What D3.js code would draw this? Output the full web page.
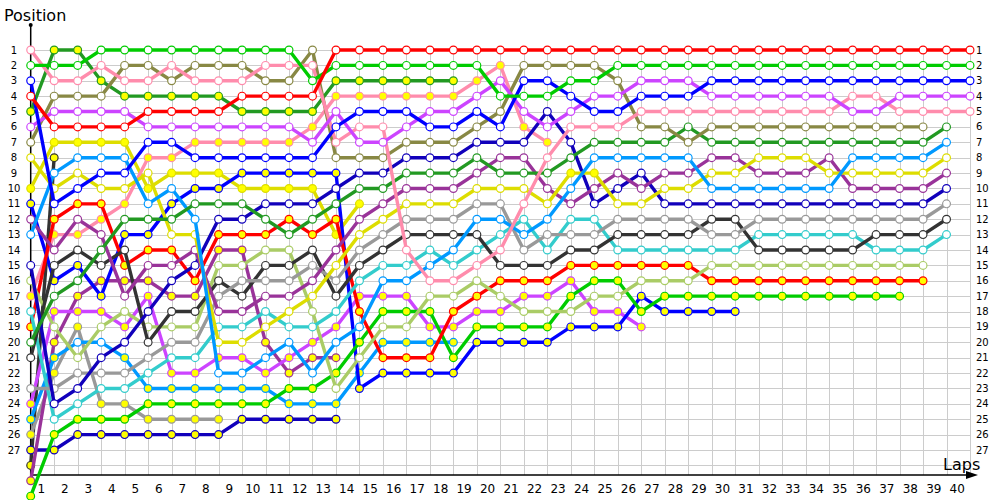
<!DOCTYPE html>
<html>
<head>
<meta charset="utf-8">
<script src="https://cdn.jsdelivr.net/npm/d3@7"></script>
<style>
body { margin: 0; background: #fff; }
svg { display: block; }
text { font-family: "DejaVu Sans", Verdana, sans-serif; fill: #000; }
</style>
</head>
<body>
<svg id="chart" width="1000" height="500"></svg>
<script>
// position of each car after every lap (index 0 = starting grid)
var redA     = [4,6,6,6,6,5,5,5,5,4,4,4,4,1,1,1,1,1,1,1,1,1,1,1,1,1,1,1,1,1,1,1,1,1,1,1,1,1,1,1,1];
var greenA   = [2,2,2,1,1,1,1,1,1,1,1,1,3,2,2,2,2,2,2,2,4,4,4,3,3,2,2,2,2,2,2,2,2,2,2,2,2,2,2,2,2];
var blueA    = [3,11,10,9,9,7,7,8,8,8,8,8,8,6,5,5,5,6,6,5,6,3,3,4,5,5,4,4,4,3,3,3,3,3,3,3,3,3,3,3,3];
var magentaA = [6,5,5,5,5,6,6,6,6,6,6,6,7,5,7,7,6,5,5,4,3,5,6,5,4,4,3,3,3,4,4,4,4,4,4,5,5,4,4,4,4];
var pinkA    = [1,3,3,2,3,3,2,3,3,3,2,2,2,7,6,6,14,16,16,15,14,11,8,6,6,6,5,5,5,5,5,5,5,5,5,4,4,5,5,5,5];
var oliveA   = [7,4,4,4,2,2,3,2,2,2,3,3,1,8,8,8,7,7,7,6,5,2,2,2,2,3,6,6,7,6,6,6,6,6,6,6,6,6,6];
var dkgreenA = [20,17,16,14,12,12,12,11,11,11,12,13,12,11,10,10,9,9,9,8,9,9,9,8,7,7,7,7,6,7,7,7,7,7,7,7,7,7,7,6];
var ltblueA  = [13,9,8,8,8,11,10,12,22,22,21,20,22,20,19,16,16,15,14,12,12,13,12,10,8,8,8,8,8,10,10,10,10,10,10,8,8,8,8,7];
var yellowA  = [8,10,9,10,10,9,13,13,20,20,19,18,17,15,13,12,11,11,11,10,10,10,11,9,9,11,11,10,10,9,9,8,8,8,9,9,9,9,9,8];
var purpleA  = [12,14,12,13,17,15,15,14,18,18,17,17,16,14,12,11,10,10,10,9,8,8,10,11,10,9,10,9,9,8,8,9,9,9,8,10,10,10,10,9];
var navyA    = [15,24,23,21,20,18,16,15,12,12,11,11,11,10,9,9,8,8,8,7,7,7,5,7,11,10,9,11,11,11,11,11,11,11,11,11,11,11,11,10];
var grayA    = [23,23,22,22,22,21,20,20,17,16,16,16,15,16,14,13,12,12,12,11,11,14,13,13,13,12,12,12,12,13,13,12,12,12,12,12,12,12,12,11];
var dkgrayA  = [21,15,14,15,14,20,18,18,16,17,15,15,14,17,15,14,13,13,13,13,15,15,15,14,14,13,13,13,13,12,12,14,14,14,14,14,13,13,13,12];
var cyanA    = [18,25,24,23,23,22,21,21,19,19,18,19,19,18,16,15,15,14,15,14,13,12,14,12,12,14,14,14,14,14,14,13,13,13,13,13,14,14,14,13];
var ltgreenA = [16,19,21,19,18,19,19,19,15,15,14,14,18,23,21,19,19,17,17,16,17,18,18,18,17,17,16,16,16,15,15,15,15,15,15,15,15,15,15];
var redB     = [19,12,11,11,15,14,14,16,13,13,13,12,13,12,18,21,21,21,18,17,16,16,16,15,15,15,15,15,15,16,16,16,16,16,16,16,16,16,16];
var greenB   = [30,26,25,25,25,24,24,24,24,24,24,23,23,22,20,18,18,18,21,19,19,19,19,17,16,16,18,17,17,17,17,17,17,17,17,17,17,17];
var blueB    = [11,16,15,17,13,13,11,10,10,9,9,9,9,9,23,22,22,22,22,20,20,20,20,19,19,19,17,18,18,18,18];
var magentaB = [24,18,18,18,19,17,22,22,21,21,22,21,20,19,17,17,17,19,19,18,18,17,17,16,18,18,19];
var pinkB    = [17,13,13,12,11,8,8,7,7,7,7,7,6,4,4,4,4,4,4,3,2,6,7];
var dkgreenB = [5,1,1,3,4,4,4,4,4,5,5,5,5,3,3,3,3,3,3];
var ltblueB  = [25,21,20,20,21,23,23,23,23,23,23,24,24,24,22,20,20,20,20];
var yellowB  = [10,7,7,7,7,10,9,9,9,10,10,10,10,13,11];
var purpleB  = [29,20,17,16,16,16,17,17,14,14,20,22,21,21];
var navyB    = [27,27,26,26,26,26,26,26,26,25,25,25,25,25];
var grayB    = [26,22,19,24,24,25,25,25,25];
var dkgrayB  = [28,8];

// cars drawn with a yellow marker, and single laps where the marker fill flips
var yellowCars = ["redB","greenB","blueB","magentaB","pinkB","dkgreenB","ltblueB","yellowB","purpleB","navyB","grayB","dkgrayB"];
var fillFlips = { ltblueB: [2, 3], yellowA: [23, 24] };

var lapTicks = d3.range(1, 41);
var posTicks = d3.range(1, 28);

var carData = {
    redA: redA, greenA: greenA, blueA: blueA, magentaA: magentaA, pinkA: pinkA,
    oliveA: oliveA, dkgreenA: dkgreenA, ltblueA: ltblueA, yellowA: yellowA,
    purpleA: purpleA, navyA: navyA, grayA: grayA, dkgrayA: dkgrayA, cyanA: cyanA,
    ltgreenA: ltgreenA, redB: redB, greenB: greenB, blueB: blueB, magentaB: magentaB,
    pinkB: pinkB, dkgreenB: dkgreenB, ltblueB: ltblueB, yellowB: yellowB,
    purpleB: purpleB, navyB: navyB, grayB: grayB, dkgrayB: dkgrayB
};

var teamColor = {
    red: "#ff0000", green: "#00cc00", blue: "#0000ff", magenta: "#cc44ff",
    pink: "#ff8cac", olive: "#888844", dkgreen: "#229922", ltblue: "#0099ff",
    yellow: "#dddd00", purple: "#993399", navy: "#1100bb", gray: "#999999",
    dkgray: "#333333", cyan: "#33cccc", ltgreen: "#aacc66"
};

var svg = d3.select("#chart");
var x = d3.scaleLinear().domain([0, 40]).range([30.7, 970]);
var y = d3.scaleLinear().domain([1, 27]).range([50, 450]);
var axisY = 475;

// grid
var grid = svg.append("g").attr("stroke", "#cccccc").attr("stroke-width", 1);
grid.selectAll("line.h").data(d3.range(1, 29)).enter().append("line")
    .attr("x1", x(0)).attr("x2", x(40))
    .attr("y1", function (d) { return Math.round(y(d)) + 0.5; })
    .attr("y2", function (d) { return Math.round(y(d)) + 0.5; });
grid.selectAll("line.v").data(lapTicks).enter().append("line")
    .attr("x1", function (d) { return Math.round(x(d)) + 0.5; })
    .attr("x2", function (d) { return Math.round(x(d)) + 0.5; })
    .attr("y1", y(1) - 3).attr("y2", axisY);

// axes
svg.append("line").attr("x1", x(0)).attr("x2", x(0)).attr("y1", 25).attr("y2", axisY)
    .attr("stroke", "#000").attr("stroke-width", 1.5);
svg.append("circle").attr("cx", x(0)).attr("cy", 25).attr("r", 2).attr("fill", "#000");
svg.append("line").attr("x1", x(0)).attr("x2", 972).attr("y1", axisY).attr("y2", axisY)
    .attr("stroke", "#000").attr("stroke-width", 1.5);
svg.append("path").attr("d", "M966,471L978,475L966,479Z").attr("fill", "#000");

svg.append("text").attr("x", 4).attr("y", 21).style("font-size", "16px").text("Position");
svg.append("text").attr("x", 943).attr("y", 470).style("font-size", "16px").text("Laps");

svg.append("g").selectAll("text").data(posTicks).enter().append("text")
    .attr("x", 14).attr("y", function (d) { return y(d) + 3.5; })
    .attr("text-anchor", "middle").style("font-size", "10px")
    .text(function (d) { return d; });
svg.append("g").selectAll("text").data(posTicks).enter().append("text")
    .attr("x", 976).attr("y", function (d) { return y(d) + 3.5; })
    .style("font-size", "10px")
    .text(function (d) { return d; });
svg.append("g").selectAll("text").data(lapTicks).enter().append("text")
    .attr("x", function (d) { return x(d - 0.5) - 1; }).attr("y", 493)
    .attr("text-anchor", "middle").style("font-size", "12px")
    .text(function (d) { return d; });

// laps
var cars = Object.keys(carData).map(function (key) {
    var team = key.slice(0, -1);
    var flips = fillFlips[key] || [];
    var yellow = yellowCars.indexOf(key) >= 0;
    return {
        key: key,
        color: teamColor[team],
        points: carData[key].map(function (p, lap) {
            var f = flips.indexOf(lap) >= 0 ? !yellow : yellow;
            return { lap: lap, pos: p, fill: f ? "#ffff00" : "#ffffff" };
        })
    };
}).reverse();

var line = d3.line()
    .x(function (d) { return x(d.lap); })
    .y(function (d) { return y(d.pos); });

var carG = svg.selectAll("g.car").data(cars).enter().append("g").attr("class", "car");
carG.append("path")
    .attr("d", function (c) { return line(c.points); })
    .attr("fill", "none")
    .attr("stroke", function (c) { return c.color; })
    .attr("stroke-width", 3.4)
    .attr("stroke-linejoin", "round");
carG.each(function (c) {
    d3.select(this).selectAll("circle").data(c.points).enter().append("circle")
        .attr("cx", function (d) { return x(d.lap); })
        .attr("cy", function (d) { return y(d.pos); })
        .attr("r", 3.9)
        .attr("fill", function (d) { return d.fill; })
        .attr("stroke", c.color)
        .attr("stroke-width", 1.2);
});
</script>
</body>
</html>
